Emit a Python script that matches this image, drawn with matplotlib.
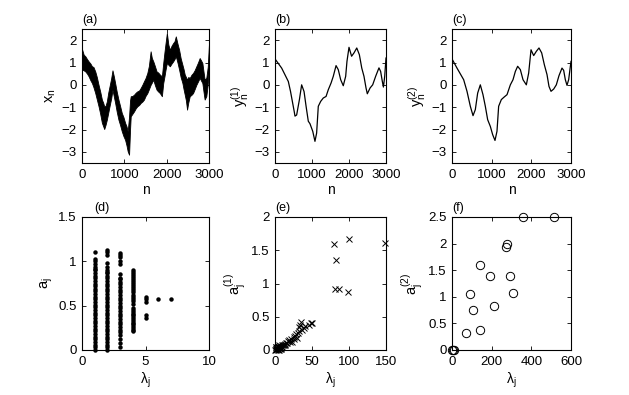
import os
import matplotlib
matplotlib.use('Agg')
import matplotlib.pyplot as plt
import matplotlib.font_manager as fm
from matplotlib.ticker import FormatStrFormatter

# pick the regular (not narrow) Liberation Sans file explicitly
fam = 'Liberation Sans'
for f in fm.fontManager.ttflist:
    if os.path.basename(f.fname).startswith('LiberationSans-Regular'):
        fam = f.name
        break

plt.rcParams['font.family'] = [fam, 'DejaVu Sans']
plt.rcParams['font.stretch'] = 'normal'
plt.rcParams['font.size'] = 9.5
plt.rcParams['mathtext.fontset'] = 'custom'
plt.rcParams['mathtext.rm'] = fam
plt.rcParams['mathtext.it'] = fam + ':italic'
plt.rcParams['axes.linewidth'] = 0.8

# ── (a) noisy signal x_n: upper / lower envelope of the band ──
n_a = [0, 40, 78, 120, 157, 200, 235, 270, 313, 350, 391, 430, 470, 500, 525,
       555, 587, 620, 650, 690, 720, 750, 783, 820, 861, 900, 940, 980, 1018,
       1050, 1080, 1112, 1135, 1151, 1190, 1229, 1270, 1308, 1350, 1386, 1425,
       1464, 1500, 1543, 1580, 1621, 1650, 1684, 1720, 1762, 1800, 1840, 1887,
       1919, 1950, 1974, 2005, 2040, 2075, 2115, 2153, 2185, 2216, 2255, 2294,
       2330, 2372, 2400, 2427, 2455, 2482, 2510, 2545, 2585, 2623, 2660, 2701,
       2740, 2780, 2810, 2843, 2870, 2897, 2936, 2970, 3000]
x_hi = [1.6, 1.35, 1.28, 1.15, 1.05, 0.95, 0.83, 0.8, 0.6, 0.35, 0.0, -0.3,
        -0.66, -0.8, -0.96, -0.95, -0.74, -0.35, -0.07, 0.3, 0.65, 0.4, 0.08,
        -0.3, -0.66, -0.95, -1.26, -1.45, -1.7, -1.85, -2.08, -1.41, -0.7, -0.51,
        -0.5, -0.44, -0.35, -0.29, -0.25, -0.14, 0.0, 0.16, 0.3, 0.53, 0.85, 1.5,
        1.2, 1.05, 0.85, 0.6, 0.55, 0.46, 0.38, 0.98, 1.5, 1.87, 2.32, 1.8, 1.57,
        1.75, 1.87, 1.95, 2.17, 1.85, 1.57, 1.2, 0.9, 0.7, 0.46, 0.35, 0.23, 0.35,
        0.31, 0.45, 0.53, 0.65, 0.83, 1.0, 1.2, 1.1, 0.98, 0.6, 0.23, 0.31, 0.8,
        1.87]
x_lo = [0.68, 0.65, 0.6, 0.5, 0.38, 0.2, 0.08, -0.1, -0.37, -0.65, -0.96, -1.3,
        -1.7, -1.85, -1.98, -1.8, -1.56, -1.25, -0.96, -0.6, -0.22, -0.5, -0.81,
        -1.2, -1.56, -1.8, -2.08, -2.3, -2.46, -2.7, -2.98, -3.13, -2.0, -1.41,
        -1.3, -1.19, -1.05, -0.96, -0.9, -0.81, -0.75, -0.66, -0.5, -0.37, -0.2,
        0.0, 0.1, 0.23, 0.0, -0.22, -0.3, -0.37, -0.51, 0.08, 0.4, 0.68, 0.98,
        0.9, 0.83, 0.95, 1.05, 1.15, 1.28, 1.0, 0.68, 0.35, 0.08, -0.2, -0.44,
        -0.7, -1.11, -0.8, -0.51, -0.45, -0.37, -0.2, 0.0, 0.15, 0.31, 0.2, 0.08,
        -0.3, -0.66, -0.51, 0.0, 0.83]

# ── (b) filtered signal y^(1)_n ──
n_b = [0, 180, 300, 360, 420, 520, 540, 585, 660, 720, 785, 840, 900, 945, 1020,
       1080, 1125, 1170, 1235, 1305, 1380, 1440, 1515, 1575, 1650, 1710, 1775,
       1845, 1910, 1945, 2000, 2070, 2135, 2210, 2280, 2345, 2405, 2460, 2495,
       2570, 2640, 2720, 2810, 2855, 2900, 2930, 2965, 3000]
y1 = [1.16, 0.75, 0.35, 0.15, -0.3, -1.2, -1.4, -1.35, -0.66, 0.0, -0.3, -0.96,
      -1.63, -1.74, -2.08, -2.53, -2.16, -0.96, -0.74, -0.59, -0.52, -0.22, 0.08,
      0.38, 0.86, 0.68, 0.23, -0.04, 0.38, 1.05, 1.68, 1.28, 1.43, 1.65, 1.35,
      0.75, 0.38, -0.14, -0.4, -0.14, 0.0, 0.38, 0.76, 0.6, 0.16, -0.1, 0.38, 1.2]

# ── (c) filtered signal y^(2)_n ──
n_c = [0, 126, 294, 378, 462, 530, 588, 647, 714, 781, 840, 899, 966, 1025, 1084,
       1134, 1176, 1244, 1319, 1387, 1471, 1538, 1597, 1655, 1723, 1790, 1874,
       1933, 1992, 2059, 2126, 2193, 2261, 2328, 2395, 2445, 2496, 2563, 2630,
       2697, 2773, 2815, 2857, 2899, 2941, 3000]
y2 = [1.16, 0.75, 0.23, -0.29, -0.96, -1.38, -1.11, -0.37, 0.0, -0.44, -0.96,
      -1.56, -1.86, -2.23, -2.49, -2.08, -0.96, -0.66, -0.54, -0.44, 0.0, 0.23,
      0.6, 0.83, 0.68, 0.23, 0.0, 0.53, 1.57, 1.31, 1.5, 1.65, 1.43, 0.9, 0.46,
      -0.07, -0.29, -0.19, 0.0, 0.41, 0.75, 0.65, 0.23, -0.02, 0.23, 1.05]

# ── (d) a_j vs lambda_j ──
a_l1 = [0.0, 0.03, 0.06, 0.09, 0.12, 0.15, 0.18, 0.21, 0.24, 0.27, 0.3, 0.33,
        0.36, 0.39, 0.42, 0.45, 0.48, 0.51, 0.54, 0.57, 0.6, 0.63, 0.66, 0.69,
        0.72, 0.75, 0.78, 0.81, 0.84, 0.87, 0.9, 0.91, 0.94, 0.97, 1.0, 1.03, 1.11]
a_l2 = [0.0, 0.03, 0.06, 0.09, 0.12, 0.15, 0.18, 0.21, 0.24, 0.27, 0.3, 0.33,
        0.36, 0.39, 0.42, 0.45, 0.48, 0.51, 0.54, 0.57, 0.6, 0.63, 0.66, 0.69,
        0.72, 0.75, 0.78, 0.81, 0.84, 0.87, 0.88, 0.9, 0.94, 0.98, 1.07, 1.1, 1.13]
a_l3 = [0.03, 0.075, 0.12, 0.17, 0.2, 0.23, 0.26, 0.29, 0.32, 0.35, 0.38, 0.41,
        0.44, 0.47, 0.5, 0.53, 0.56, 0.59, 0.62, 0.65, 0.68, 0.71, 0.74, 0.77,
        0.8, 0.81, 0.86, 0.97, 1.0, 1.05, 1.07, 1.09]
a_l4 = [0.21, 0.23, 0.25, 0.27, 0.29, 0.31, 0.33, 0.35, 0.37, 0.39, 0.41, 0.43,
        0.45, 0.47, 0.52, 0.55, 0.58, 0.6, 0.62, 0.65, 0.68, 0.7, 0.72, 0.74,
        0.77, 0.79, 0.81, 0.84, 0.86, 0.88, 0.9]
a_l5 = [0.36, 0.39, 0.54, 0.57, 0.6]
a_l6 = [0.575]
a_l7 = [0.57]

# ── (e) a^(1)_j vs lambda_j ──
lam_e = [0.5, 1, 1.5, 2, 2.5, 3, 3.5, 4, 4.5, 5, 5.5, 6, 6.5, 7, 7.5, 8, 9,
         9.5, 10, 11, 12, 13, 14, 15, 16, 17, 18.5, 20, 21, 23, 25, 26, 27.5,
         29, 30, 31, 32, 33, 34, 35.6, 37, 39, 41, 45.5, 48, 50,
         1, 2, 3, 4, 5, 6, 8,
         79.7, 99.5, 148, 82, 81.5, 86, 98]
a_e = [0.0, 0.01, 0.0, 0.02, 0.01, 0.03, 0.0, 0.02, 0.04, 0.025, 0.04, 0.03,
       0.01, 0.05, 0.03, 0.06, 0.04, 0.05, 0.07, 0.08, 0.07, 0.09, 0.075, 0.11,
       0.1, 0.13, 0.15, 0.12, 0.17, 0.125, 0.2, 0.16, 0.21, 0.24, 0.175, 0.26,
       0.29, 0.34, 0.375, 0.425, 0.3, 0.33, 0.36, 0.375, 0.4, 0.41,
       0.04, 0.05, 0.015, 0.06, 0.0, 0.07, 0.02,
       1.6, 1.665, 1.61, 1.35, 0.92, 0.92, 0.87]

# ── (f) a^(2)_j vs lambda_j ──
lam_f = [358, 513, 277, 272, 139, 193, 294, 89, 308, 106, 213, 72, 143, 0, 4, 8]
a_f = [2.5, 2.5, 2.0, 1.94, 1.59, 1.39, 1.39, 1.06, 1.08, 0.76, 0.825, 0.325,
       0.37, 0.0, 0.0, 0.0]

fig = plt.figure(figsize=(6.29, 3.95), dpi=100)
W, H = 629, 395


def add_ax(x0, x1, y0, y1):
    return fig.add_axes([x0 / W, 1 - y1 / H, (x1 - x0) / W, (y1 - y0) / H])


def style(ax, title, xlabel, ylabel, tx=0.0):
    ax.tick_params(direction='in', top=True, right=True, length=3, width=0.6,
                   pad=4, labelsize=9.5)
    ax.text(tx, 1.02, title, transform=ax.transAxes, ha='left', va='bottom',
            fontsize=9)
    ax.set_xlabel(xlabel, labelpad=2, fontsize=10)
    ax.set_ylabel(ylabel, labelpad=2, fontsize=10.5)


# top row
ax = add_ax(82, 209, 29, 163)
ax.fill_between(n_a, x_lo, x_hi, color='black', lw=0.6)
ax.set_xlim(0, 3000); ax.set_ylim(-3.5, 2.5)
ax.set_xticks([0, 1000, 2000, 3000]); ax.set_yticks([-3, -2, -1, 0, 1, 2])
style(ax, '(a)', 'n', r'$\mathregular{x_n}$')

ax = add_ax(275, 386, 29, 163)
ax.plot(n_b, y1, color='black', lw=0.9)
ax.set_xlim(0, 3000); ax.set_ylim(-3.5, 2.5)
ax.set_xticks([0, 1000, 2000, 3000]); ax.set_yticks([-3, -2, -1, 0, 1, 2])
style(ax, '(b)', 'n', r'$\mathregular{y^{(1)}_n}$')

ax = add_ax(452, 571, 29, 163)
ax.plot(n_c, y2, color='black', lw=0.9)
ax.set_xlim(0, 3000); ax.set_ylim(-3.5, 2.5)
ax.set_xticks([0, 1000, 2000, 3000]); ax.set_yticks([-3, -2, -1, 0, 1, 2])
style(ax, '(c)', 'n', r'$\mathregular{y^{(2)}_n}$')

# bottom row
ax = add_ax(82, 209, 217, 350)
for lam, vals in zip([1, 2, 3, 4, 5, 6, 7], [a_l1, a_l2, a_l3, a_l4, a_l5, a_l6, a_l7]):
    ax.plot([lam] * len(vals), vals, 'o', color='black', ms=3.2, mew=0, clip_on=False)
ax.set_xlim(0, 10); ax.set_ylim(0, 1.5)
ax.set_xticks([0, 5, 10]); ax.set_yticks([0, 0.5, 1, 1.5])
ax.yaxis.set_major_formatter(FormatStrFormatter('%g'))
style(ax, '(d)', r'$\mathregular{\lambda_j}$', r'$\mathregular{a_j}$', tx=0.1)

ax = add_ax(275, 386, 217, 350)
ax.plot(lam_e, a_e, 'x', color='black', ms=5, mew=0.7, clip_on=False)
ax.set_xlim(0, 150); ax.set_ylim(0, 2)
ax.set_xticks([0, 50, 100, 150]); ax.set_yticks([0, 0.5, 1, 1.5, 2])
ax.yaxis.set_major_formatter(FormatStrFormatter('%g'))
style(ax, '(e)', r'$\mathregular{\lambda_j}$', r'$\mathregular{a^{(1)}_j}$')

ax = add_ax(452, 571, 217, 350)
ax.plot(lam_f, a_f, 'o', color='black', mfc='none', ms=6, mew=0.7, clip_on=False)
ax.set_xlim(0, 600); ax.set_ylim(0, 2.5)
ax.set_xticks([0, 200, 400, 600]); ax.set_yticks([0, 0.5, 1, 1.5, 2, 2.5])
ax.yaxis.set_major_formatter(FormatStrFormatter('%g'))
style(ax, '(f)', r'$\mathregular{\lambda_j}$', r'$\mathregular{a^{(2)}_j}$')

fig.savefig('out.png', dpi=100)
